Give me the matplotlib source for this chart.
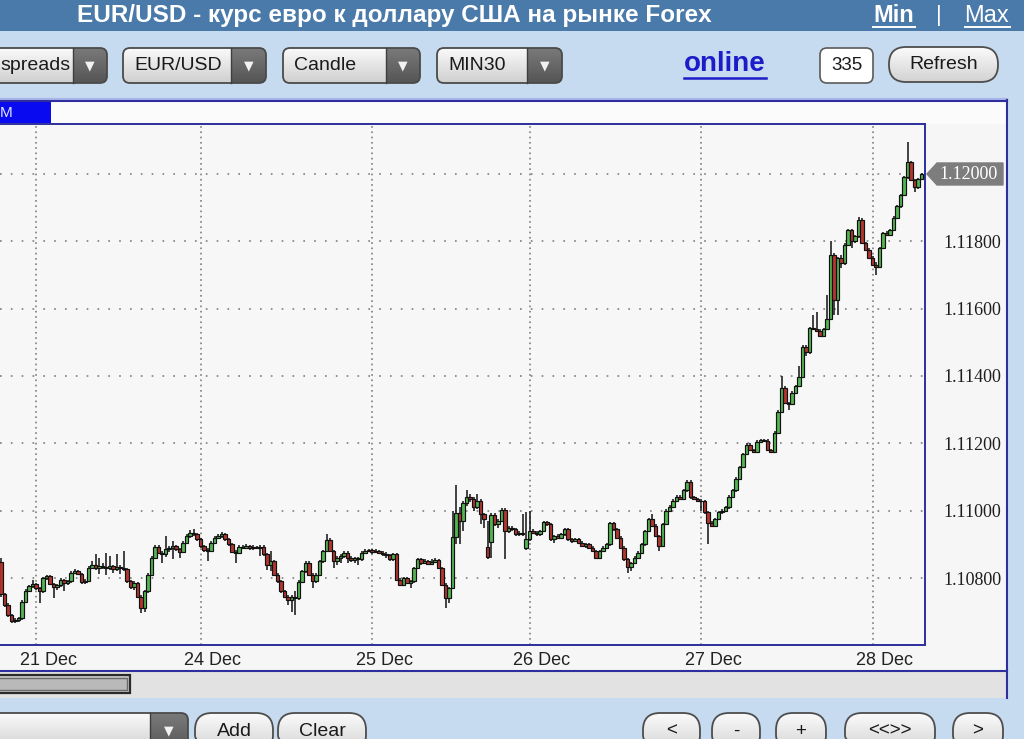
import numpy as np
import matplotlib
matplotlib.use('Agg')
import matplotlib.pyplot as plt
from matplotlib.patches import FancyBboxPatch, Rectangle, Polygon
from matplotlib.colors import to_rgb
from matplotlib.transforms import ScaledTranslation
from matplotlib import font_manager

plt.rcParams['lines.scale_dashes'] = False

# ---------------- data (EUR/USD quotes in 1e-5 units, e.g. 10849 -> 1.10849) ----------------
opens = [
    10849, 10751, 10721, 10690, 10671, 10675, 10680, 10730, 10762, 10775,
    10782, 10770, 10760, 10800, 10805, 10782, 10772, 10778, 10795, 10785,
    10790, 10816, 10822, 10812, 10787, 10792, 10831, 10840, 10830, 10835,
    10832, 10830, 10835, 10828, 10832, 10830, 10826, 10790, 10772, 10785,
    10745, 10710, 10760, 10810, 10860, 10893, 10875, 10870, 10885, 10890,
    10895, 10885, 10878, 10905, 10925, 10935, 10930, 10915, 10895, 10884,
    10880, 10905, 10920, 10925, 10930, 10915, 10900, 10878, 10875, 10893,
    10890, 10895, 10888, 10892, 10890, 10893, 10870, 10840, 10850, 10810,
    10790, 10760, 10745, 10735, 10745, 10740, 10789, 10820, 10846, 10810,
    10790, 10810, 10850, 10880, 10914, 10880, 10850, 10860, 10865, 10875,
    10860, 10852, 10858, 10855, 10875, 10880, 10882, 10878, 10880, 10875,
    10872, 10868, 10855, 10870, 10795, 10780, 10800, 10785, 10790, 10830,
    10855, 10845, 10850, 10842, 10848, 10852, 10830, 10780, 10742, 10770,
    10923, 10994, 10970, 11024, 11040, 11035, 11010, 11030, 10990, 10893,
    10906, 10988, 10960, 10970, 11003, 10940, 10950, 10945, 10930, 10935,
    10888, 10915, 10940, 10935, 10930, 10940, 10965, 10960, 10915, 10925,
    10920, 10930, 10945, 10915, 10910, 10915, 10905, 10895, 10900, 10890,
    10880, 10860, 10880, 10890, 10900, 10962, 10945, 10920, 10890, 10855,
    10834, 10845, 10860, 10875, 10900, 10940, 10975, 10955, 10925, 10895,
    10960, 11000, 11012, 11030, 11042, 11035, 11060, 11086, 11040, 11035,
    11030, 11028, 10995, 10964, 10955, 10975, 10995, 11000, 11010, 11042,
    11060, 11095, 11130, 11168, 11196, 11180, 11175, 11205, 11210, 11208,
    11180, 11175, 11232, 11294, 11365, 11320, 11318, 11350, 11370, 11398,
    11487, 11470, 11543, 11540, 11535, 11520, 11540, 11570, 11760, 11626,
    11750, 11735, 11790, 11834, 11800, 11815, 11864, 11795, 11775, 11751,
    11730, 11725, 11780, 11825, 11820, 11834, 11870, 11904, 11938, 11990,
    12036, 11982, 11960, 11985,
]
highs = [
    10860, 10755, 10725, 10694, 10680, 10684, 10735, 10768, 10780, 10795,
    10786, 10774, 10804, 10810, 10808, 10786, 10782, 10800, 10798, 10794,
    10820, 10828, 10825, 10815, 10796, 10835, 10850, 10870, 10860, 10845,
    10875, 10865, 10840, 10870, 10838, 10880, 10830, 10794, 10790, 10788,
    10750, 10765, 10815, 10865, 10897, 10898, 10880, 10925, 10895, 10910,
    10899, 10889, 10909, 10930, 10942, 10945, 10934, 10919, 10899, 10890,
    10909, 10924, 10930, 10938, 10934, 10919, 10904, 10882, 10897, 10898,
    10900, 10899, 10897, 10896, 10898, 10897, 10874, 10880, 10854, 10814,
    10794, 10764, 10749, 10750, 10760, 10793, 10824, 10850, 10850, 10814,
    10814, 10854, 10884, 10932, 10918, 10884, 10865, 10870, 10880, 10879,
    10866, 10862, 10862, 10879, 10885, 10886, 10886, 10885, 10884, 10879,
    10876, 10872, 10874, 10874, 10799, 10804, 10804, 10794, 10834, 10859,
    10860, 10856, 10854, 10855, 10858, 10856, 10834, 10784, 10774, 11000,
    11077, 11010, 11028, 11060, 11050, 11040, 11050, 11034, 10994, 10970,
    10994, 10992, 10975, 11008, 11007, 10955, 10955, 10949, 10940, 10990,
    10995, 11000, 10945, 10940, 10944, 10969, 10970, 10964, 10929, 10930,
    10934, 10949, 10949, 10920, 10919, 10920, 10909, 10904, 10904, 10894,
    10884, 10884, 10894, 10904, 10966, 10966, 10949, 10924, 10894, 10859,
    10849, 10864, 10879, 10904, 10944, 10979, 10990, 10959, 10929, 10964,
    11004, 11016, 11034, 11046, 11046, 11064, 11090, 11090, 11044, 11039,
    11034, 11032, 10999, 10968, 10979, 10999, 11004, 11014, 11046, 11064,
    11099, 11134, 11172, 11200, 11200, 11184, 11209, 11214, 11214, 11212,
    11184, 11236, 11298, 11400, 11369, 11324, 11354, 11374, 11430, 11491,
    11491, 11547, 11580, 11590, 11539, 11544, 11640, 11800, 11764, 11754,
    11760, 11794, 11838, 11838, 11819, 11872, 11868, 11799, 11779, 11755,
    11740, 11784, 11829, 11830, 11838, 11874, 11908, 11942, 11994, 12095,
    12040, 11986, 11989, 12004,
]
lows = [
    10745, 10715, 10685, 10665, 10666, 10668, 10676, 10726, 10757, 10770,
    10765, 10727, 10756, 10795, 10778, 10740, 10765, 10774, 10760, 10778,
    10786, 10812, 10808, 10783, 10782, 10788, 10826, 10825, 10812, 10826,
    10810, 10824, 10815, 10822, 10812, 10820, 10785, 10766, 10765, 10740,
    10697, 10700, 10755, 10805, 10855, 10870, 10845, 10862, 10878, 10855,
    10880, 10860, 10874, 10900, 10920, 10926, 10910, 10890, 10878, 10850,
    10876, 10900, 10915, 10920, 10910, 10895, 10874, 10846, 10870, 10885,
    10885, 10882, 10884, 10885, 10865, 10866, 10825, 10820, 10806, 10786,
    10756, 10741, 10721, 10700, 10691, 10736, 10785, 10816, 10806, 10770,
    10786, 10806, 10846, 10876, 10876, 10830, 10840, 10845, 10860, 10845,
    10848, 10846, 10840, 10851, 10870, 10876, 10870, 10874, 10870, 10866,
    10860, 10850, 10851, 10790, 10776, 10776, 10781, 10770, 10786, 10826,
    10840, 10841, 10838, 10838, 10844, 10826, 10776, 10712, 10725, 10766,
    10900, 10900, 10940, 11015, 11025, 11000, 11005, 10960, 10950, 10857,
    10860, 10955, 10950, 10965, 10855, 10935, 10940, 10925, 10926, 10926,
    10884, 10910, 10930, 10925, 10926, 10936, 10955, 10910, 10905, 10915,
    10916, 10926, 10911, 10905, 10906, 10900, 10891, 10890, 10886, 10876,
    10856, 10856, 10876, 10886, 10896, 10941, 10916, 10886, 10851, 10816,
    10820, 10841, 10856, 10871, 10896, 10936, 10951, 10921, 10880, 10891,
    10956, 10996, 11008, 11026, 11031, 11031, 11056, 11036, 11031, 11026,
    11000, 10991, 10900, 10951, 10951, 10971, 10991, 10996, 11006, 11038,
    11056, 11091, 11126, 11164, 11176, 11171, 11171, 11201, 11204, 11176,
    11171, 11171, 11228, 11290, 11316, 11300, 11314, 11346, 11366, 11394,
    11460, 11466, 11536, 11531, 11516, 11516, 11536, 11566, 11580, 11580,
    11720, 11731, 11786, 11780, 11796, 11811, 11791, 11771, 11747, 11726,
    11700, 11721, 11776, 11816, 11816, 11830, 11866, 11900, 11934, 11986,
    11978, 11946, 11956, 11981,
]
closes = [
    10751, 10721, 10690, 10671, 10675, 10680, 10730, 10762, 10775, 10782,
    10770, 10760, 10800, 10805, 10782, 10772, 10778, 10795, 10785, 10790,
    10816, 10822, 10812, 10787, 10792, 10831, 10840, 10830, 10835, 10832,
    10830, 10835, 10828, 10832, 10830, 10826, 10790, 10772, 10785, 10745,
    10710, 10760, 10810, 10860, 10893, 10875, 10870, 10885, 10890, 10895,
    10885, 10878, 10905, 10925, 10935, 10930, 10915, 10895, 10884, 10880,
    10905, 10920, 10925, 10930, 10915, 10900, 10878, 10875, 10893, 10890,
    10895, 10888, 10892, 10890, 10893, 10870, 10840, 10850, 10810, 10790,
    10760, 10745, 10735, 10745, 10740, 10789, 10820, 10846, 10810, 10790,
    10810, 10850, 10880, 10914, 10880, 10850, 10860, 10865, 10875, 10860,
    10852, 10858, 10855, 10875, 10880, 10882, 10878, 10880, 10875, 10872,
    10868, 10855, 10870, 10795, 10780, 10800, 10785, 10790, 10830, 10855,
    10845, 10850, 10842, 10848, 10852, 10830, 10780, 10742, 10770, 10923,
    10994, 10970, 11024, 11040, 11035, 11010, 11030, 10990, 10975, 10861,
    10988, 10960, 10970, 11003, 10940, 10950, 10945, 10930, 10935, 10930,
    10915, 10940, 10935, 10930, 10940, 10965, 10960, 10915, 10925, 10920,
    10930, 10945, 10915, 10910, 10915, 10905, 10895, 10900, 10890, 10880,
    10860, 10880, 10890, 10900, 10962, 10945, 10920, 10890, 10855, 10834,
    10845, 10860, 10875, 10900, 10940, 10975, 10955, 10925, 10895, 10960,
    11000, 11012, 11030, 11042, 11035, 11060, 11086, 11040, 11035, 11030,
    11028, 10995, 10964, 10955, 10975, 10995, 11000, 11010, 11042, 11060,
    11095, 11130, 11168, 11196, 11180, 11175, 11205, 11210, 11208, 11180,
    11175, 11232, 11294, 11365, 11320, 11318, 11350, 11370, 11398, 11487,
    11470, 11543, 11540, 11535, 11520, 11540, 11570, 11760, 11626, 11750,
    11735, 11790, 11834, 11800, 11815, 11864, 11795, 11775, 11751, 11730,
    11725, 11780, 11825, 11820, 11834, 11870, 11904, 11938, 11990, 12036,
    11982, 11960, 11985, 12000,
]
day_start_bar = [10, 57, 106, 151, 200, 249]
day_labels = ['21 Dec', '24 Dec', '25 Dec', '26 Dec', '27 Dec', '28 Dec']
price_ticks = [1.108, 1.110, 1.112, 1.114, 1.116, 1.118, 1.120]

title = 'EUR/USD - курс евро к доллару США на рынке Forex'
top_selects = ['spreads', 'EUR/USD', 'Candle', 'MIN30']
status_text = 'online'
bars_count = '335'
nav_buttons = ['<', '-', '+', '<<>>', '>']

# ---------------- fonts ----------------
avail = {f.name for f in font_manager.fontManager.ttflist}
SANS = 'Liberation Sans' if 'Liberation Sans' in avail else 'DejaVu Sans'
NARROW = 'Liberation Sans Narrow' if 'Liberation Sans Narrow' in avail else SANS
SERIF = 'Liberation Serif' if 'Liberation Serif' in avail else 'DejaVu Serif'

# ---------------- figure ----------------
W, H = 1024, 739
HEADER = '#4a7aaa'
TOOLBAR = '#c7dbf0'
NAVY = '#2e2e9e'
PANEL = '#f6f6f6'

fig = plt.figure(figsize=(W / 100, H / 100), dpi=100, facecolor=TOOLBAR)
bg = fig.add_axes([0, 0, 1, 1], zorder=0)
bg.set_xlim(0, W); bg.set_ylim(H, 0); bg.axis('off')


def grad(x0, y0, x1, y1, ctop, cbot, clip, z):
    t = np.linspace(0, 1, 64)[:, None, None]
    a = np.array(to_rgb(ctop))[None, None, :]
    b = np.array(to_rgb(cbot))[None, None, :]
    img = a * (1 - t) + b * t
    im = bg.imshow(img, extent=(x0, x1, y1, y0), origin='upper', aspect='auto',
                   zorder=z, interpolation='bilinear')
    im.set_clip_path(clip)
    return im


def pill(x0, y0, x1, y1, r, label, fs=13.5, ctop='#fbfbfb', cbot='#d2d2d2'):
    p = FancyBboxPatch((x0, y0), x1 - x0, y1 - y0,
                       boxstyle=f'round,pad=0,rounding_size={r}',
                       fc='none', ec='#4d4d4d', lw=1.3, zorder=6)
    bg.add_patch(p)
    grad(x0, y0, x1, y1, ctop, cbot, p, 5)
    bg.text((x0 + x1) / 2, min(y0 + 18, (y0 + y1) / 2), label, ha='center', va='center',
            fontsize=fs, family=SANS, color='#1a1a1a', zorder=7)


def select(x0, y0, x1, y1, xa, label, fs=14, tx=None):
    p = FancyBboxPatch((x0, y0), x1 - x0, y1 - y0,
                       boxstyle='round,pad=0,rounding_size=7',
                       fc='none', ec='#4a4a4a', lw=1.3, zorder=6)
    bg.add_patch(p)
    grad(x0, y0, x1, y1, '#fafafa', '#cfcfcf', p, 4)
    grad(xa, y0, x1, y1, '#7a7a7a', '#555555', p, 5)
    bg.plot([xa, xa], [y0, y1], color='#3e3e3e', lw=1.0, zorder=6)
    ym = min((y0 + y1) / 2, y0 + 18)
    bg.text((xa + x1) / 2, ym, '▼', ha='center', va='center', fontsize=9,
            color='#f2f2f2', family='DejaVu Sans', zorder=7)
    if label:
        bg.text(x0 + 11 if tx is None else tx, ym, label, ha='left', va='center',
                fontsize=fs, family=SANS, color='#1a1a1a', zorder=7)


# header
bg.add_patch(Rectangle((0, 0), W, 31, fc=HEADER, ec='none', zorder=1))
bg.text(394, 15.5, title, ha='center', va='center', color='white', fontsize=17.5,
        fontweight='bold', family=SANS, zorder=2)
bg.text(894, 15.5, 'Min', ha='center', va='center', color='white', fontsize=17,
        fontweight='bold', family=NARROW, zorder=2)
bg.plot([873, 915], [26.5, 26.5], color='white', lw=1.4, zorder=2)
bg.text(939, 15.5, '|', ha='center', va='center', color='white', fontsize=16,
        family=SANS, zorder=2)
bg.text(987, 15.5, 'Max', ha='center', va='center', color='white', fontsize=17,
        family=NARROW, zorder=2)
bg.plot([965, 1010], [26.5, 26.5], color='white', lw=1.4, zorder=2)

# toolbars
bg.add_patch(Rectangle((0, 31), W, 69, fc=TOOLBAR, ec='none', zorder=1))
bg.plot([0, 1007], [98.5, 98.5], color='#a9b6ea', lw=1.6, zorder=2)

select(-12, 48, 107, 83, 73, top_selects[0], tx=0)
select(123, 48, 266, 83, 231, top_selects[1])
select(283, 48, 420, 83, 386, top_selects[2])
select(437, 48, 562, 83, 527, top_selects[3])
bg.text(725, 64, status_text, ha='center', va='center', color='#1c1cc8', fontsize=20,
        fontweight='bold', family=SANS, zorder=2)
bg.plot([684, 766], [77.5, 77.5], color='#1c1cc8', lw=1.8, zorder=2)
cnt = FancyBboxPatch((820, 48), 53, 35, boxstyle='round,pad=0,rounding_size=7',
                     fc='white', ec='#5a5a5a', lw=1.2, zorder=3)
bg.add_patch(cnt)
bg.text(846.5, 65.5, bars_count, ha='center', va='center', fontsize=13.5,
        family=SANS, color='#1a1a1a', zorder=4)
pill(889, 47, 998, 82, 17, 'Refresh', fs=14)

# bottom controls
select(-12, 713, 188, 752, 150, '')
pill(195, 713, 273, 752, 17, 'Add', fs=14)
pill(278, 713, 366, 752, 17, 'Clear', fs=14)
nav_x = [(643, 700), (712, 760), (776, 826), (845, 935), (953, 1003)]
for (a, b), lab in zip(nav_x, nav_buttons):
    pill(a, 713, b, 752, 17, lab, fs=13.5)

# chart panel
bg.add_patch(Rectangle((0, 100), 1007, 570, fc=PANEL, ec='none', zorder=1))
bg.add_patch(Rectangle((0, 101), 1007, 23, fc='#fbfbfb', ec='none', zorder=1.5))
bg.add_patch(Rectangle((0, 101), 51, 22, fc='#0a0af0', ec='none', zorder=2))
bg.text(0, 113, 'M', ha='left', va='center', color='#dfe6ff', fontsize=11,
        family=SANS, zorder=3)
bg.plot([0, 1007], [100.5, 100.5], color=NAVY, lw=1.5, zorder=3)
bg.plot([1007, 1007], [100, 698], color=NAVY, lw=1.5, zorder=3)
bg.add_patch(Rectangle((0, 670), 1007, 28, fc='#e2e2e2', ec='none', zorder=1))
bg.plot([0, 1007], [670.5, 670.5], color=NAVY, lw=1.5, zorder=3)
# scrollbar thumb
bg.add_patch(Rectangle((-6, 675), 136, 18, fc='#c9c9c9', ec='#2a2a2a', lw=1.6, zorder=3))
bg.add_patch(Rectangle((-6, 678), 133, 12, fc='#b9b9b9', ec='#6a6a6a', lw=1.0, zorder=4))

# ---------------- price chart ----------------
ax = fig.add_axes([0, (H - 645) / H, 925 / W, (645 - 124) / H], zorder=2)
ax.set_facecolor('#f7f7f7')
o = np.array(opens) / 1e5 + 1.0
h = np.array(highs) / 1e5 + 1.0
l = np.array(lows) / 1e5 + 1.0
c = np.array(closes) / 1e5 + 1.0
assert len(o) == len(h) == len(l) == len(c)
idx = np.arange(len(c))
up = c >= o

ax.vlines(idx, l, h, color='#111111', lw=1.1, zorder=3)
ax.bar(idx[up], (c - o)[up], bottom=o[up], width=0.95, color='#52b552',
       edgecolor='#111111', linewidth=0.85, zorder=4)
ax.bar(idx[~up], (o - c)[~up], bottom=c[~up], width=0.95, color='#b3352e',
       edgecolor='#111111', linewidth=0.85, zorder=4)

ax.set_xlim(-0.3, 264.0)
ax.set_ylim(1.10601, 1.121485)
ax.set_xticks(day_start_bar)
ax.set_xticklabels(day_labels)
ax.set_yticks(price_ticks)
last_label = f'{c[-1]:.5f}'
ax.set_yticklabels(['' if f'{v:.5f}' == last_label else f'{v:.5f}' for v in price_ticks])
ax.yaxis.tick_right()
ax.tick_params(axis='x', length=0, pad=5, labelsize=13, labelcolor='#222222')
ax.tick_params(axis='y', length=0, pad=13, labelsize=13, labelcolor='#1e1e1e')
shift = ScaledTranslation(12 / 100, 0, fig.dpi_scale_trans)
for t in ax.get_xticklabels():
    t.set_family(NARROW)
    t.set_transform(t.get_transform() + shift)
for t in ax.get_yticklabels():
    t.set_family(SERIF)
ax.set_axisbelow(True)
ax.xaxis.grid(True, color='#7e7e7e', lw=1.2, linestyle=(0, (1.2, 2.6)))
ax.yaxis.grid(True, color='#7e7e7e', lw=1.2, linestyle=(0, (1.2, 6.6)))
ax.spines['left'].set_visible(False)
for s in ('top', 'right', 'bottom'):
    ax.spines[s].set_color(NAVY)
    ax.spines[s].set_linewidth(1.4)

# current price tag (overlay)
ov = fig.add_axes([0, 0, 1, 1], zorder=3)
ov.set_xlim(0, W); ov.set_ylim(H, 0); ov.axis('off')
ytag = H - ax.transData.transform((0, c[-1]))[1]
ov.add_patch(Polygon([(927, ytag), (937, ytag - 11), (1003, ytag - 11),
                      (1003, ytag + 11), (937, ytag + 11)],
                     closed=True, fc='#7d7d7d', ec='#7d7d7d', zorder=5))
ov.text(969, ytag + 0.5, last_label, ha='center', va='center', color='white',
        fontsize=13, family=SERIF, zorder=6)

fig.savefig('out.png', dpi=100, facecolor=TOOLBAR)
